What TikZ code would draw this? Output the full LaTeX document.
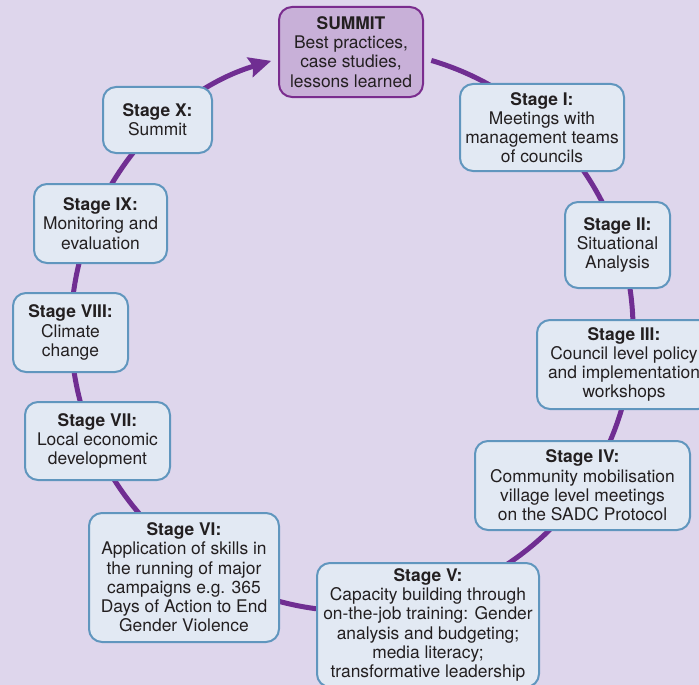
\documentclass[tikz,border=0pt]{standalone}
\usepackage{fontspec}
\setmainfont{TeX Gyre Heros}
\usetikzlibrary{arrows.meta}

\definecolor{bglilac}{RGB}{222,214,236}
\definecolor{boxfill}{RGB}{226,233,243}
\definecolor{boxedge}{RGB}{96,150,190}
\definecolor{summitfill}{RGB}{200,176,216}
\definecolor{summitedge}{RGB}{122,44,142}
\definecolor{ringpurple}{RGB}{112,46,146}
\definecolor{textdark}{RGB}{35,31,32}

\begin{document}
\begin{tikzpicture}[x=1pt, y=1pt,
    stagebox/.style={draw=boxedge, fill=boxfill, line width=2pt, rounded corners=13pt,
        align=center, text=textdark, inner sep=2pt,
        font=\fontsize{17.4}{19.2}\selectfont},
    summitbox/.style={stagebox, draw=summitedge, fill=summitfill},
    ring/.style={ringpurple, line width=5pt}]

    % Background
    \fill[bglilac] (0,0) rectangle (699,-685);
    \useasboundingbox (0,0) rectangle (699,-685);

    % Cycle ring behind the boxes
    \coordinate (hub) at (352,-330);
    \draw[ring, -{Stealth[length=22pt, width=20pt, inset=3pt]}]
        (hub) ++(73.6:281) arc[start angle=73.6, end angle=-253.3, radius=281];

    % Summit
    \node[summitbox, minimum width=144pt, minimum height=90pt] (summit) at (351,-52)
        {\textbf{SUMMIT}\\Best practices,\\case studies,\\lessons learned};

    % Stages
    \node[stagebox, minimum width=164pt, minimum height=87pt] (stage1) at (542,-127.5)
        {\textbf{Stage I:}\\Meetings with\\management teams\\of councils};
    \node[stagebox, minimum width=105pt, minimum height=86pt] (stage2) at (617.5,-245)
        {\textbf{Stage II:}\\Situational\\Analysis};
    \node[stagebox, minimum width=174pt, minimum height=89pt] (stage3) at (624,-364.5)
        {\textbf{Stage III:}\\Council level policy\\and implementation\\workshops};
    \node[stagebox, minimum width=215pt, minimum height=89pt] (stage4) at (582.5,-485.5)
        {\textbf{Stage IV:}\\Community mobilisation\\village level meetings\\on the SADC Protocol};
    \node[stagebox, minimum width=222pt, minimum height=124pt] (stage5) at (428,-625)
        {\textbf{Stage V:}\\Capacity building through\\on-the-job training: Gender\\analysis and budgeting;\\media literacy;\\transformative leadership};
    \node[stagebox, minimum width=190pt, minimum height=129pt] (stage6) at (184,-577.5)
        {\textbf{Stage VI:}\\Application of skills in\\the running of major\\campaigns e.g. 365\\Days of Action to End\\Gender Violence};
    \node[stagebox, minimum width=145pt, minimum height=78pt] (stage7) at (97.5,-441)
        {\textbf{Stage VII:}\\Local economic\\development};
    \node[stagebox, minimum width=115pt, minimum height=79pt] (stage8) at (70.5,-332.5)
        {\textbf{Stage VIII:}\\Climate\\change};
    \node[stagebox, minimum width=133pt, minimum height=79pt] (stage9) at (100.5,-223.5)
        {\textbf{Stage IX:}\\Monitoring and\\evaluation};
    \node[stagebox, minimum width=109pt, minimum height=66pt] (stage10) at (157.5,-120)
        {\textbf{Stage X:}\\Summit};
\end{tikzpicture}
\end{document}
